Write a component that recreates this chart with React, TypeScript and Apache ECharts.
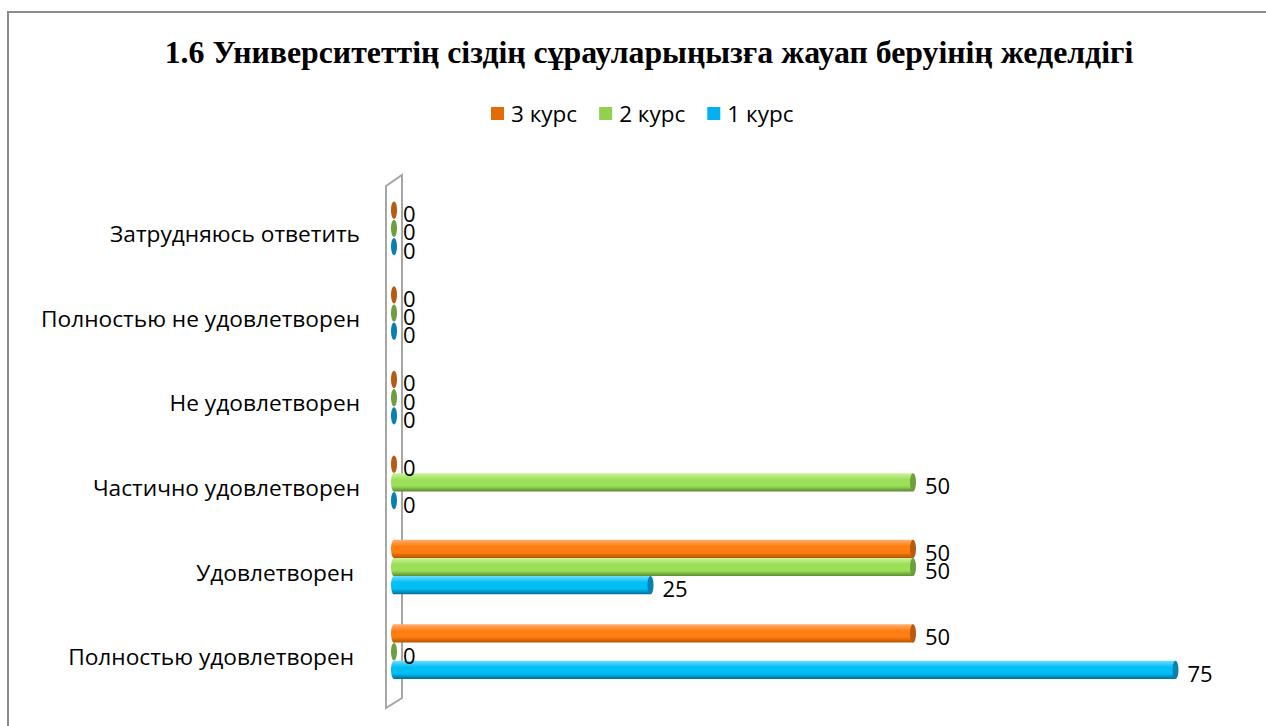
import React, { useEffect, useRef } from "react";
import * as echarts from "echarts";

const titleText = "1.6 Университеттің сіздің сұрауларыңызға жауап беруінің жеделдігі";
const categories = [
  "Полностью удовлетворен ",
  "Удовлетворен ",
  "Частично удовлетворен",
  "Не удовлетворен",
  "Полностью не удовлетворен",
  "Затрудняюсь ответить",
];
const seriesNames = ["1 курс", "2 курс", "3 курс"];
const legendOrder = ["3 курс", "2 курс", "1 курс"];
const course1 = [75, 25, 0, 0, 0, 0];
const course2 = [0, 50, 50, 0, 0, 0];
const course3 = [50, 50, 0, 0, 0, 0];

const palette: Record<string, { legend: string; top: string; mid: string; bot: string; cap: string }> = {
  "1 курс": { legend: "#00B0F0", top: "#6FDCFF", mid: "#00BFF5", bot: "#006E96", cap: "#0A80B0" },
  "2 курс": { legend: "#92D050", top: "#CDF29A", mid: "#9CE05A", bot: "#5A8A2E", cap: "#6E9E3E" },
  "3 курс": { legend: "#E36C09", top: "#FFB070", mid: "#FF7E12", bot: "#B85200", cap: "#B85A10" },
};

function makeRender(name: string, slot: number) {
  const c = palette[name];
  return (params: any, api: any) => {
    const v = api.value(0);
    const cat = api.value(1);
    const p0 = api.coord([0, cat]);
    const p1 = api.coord([v, cat]);
    const band = api.size([0, 1])[1];
    const h = band * 0.215;
    const cy = p0[1] - 5 + slot * h;
    const x0 = p0[0];
    const x1 = p1[0];
    const rx = 3;
    const grad = new echarts.graphic.LinearGradient(0, 0, 0, 1, [
      { offset: 0, color: c.top },
      { offset: 0.35, color: c.mid },
      { offset: 0.7, color: c.mid },
      { offset: 1, color: c.bot },
    ]);
    const children: any[] = [];
    if (v > 0) {
      children.push({
        type: "ellipse",
        shape: { cx: x0 + rx, cy, rx, ry: h / 2 },
        style: { fill: grad },
      });
      children.push({
        type: "rect",
        shape: { x: x0 + rx, y: cy - h / 2, width: Math.max(0, x1 - x0 - 2 * rx), height: h },
        style: { fill: grad },
      });
      children.push({
        type: "ellipse",
        shape: { cx: x1 - rx, cy, rx, ry: h / 2 },
        style: { fill: c.cap },
      });
    } else {
      children.push({
        type: "ellipse",
        shape: { cx: x0 + rx, cy, rx, ry: h / 2 - 0.5 },
        style: { fill: c.cap },
      });
    }
    const lx = v > 0 ? x1 + 9 : x0 + 2 * rx + 6;
    children.push({
      type: "text",
      style: {
        x: lx,
        y: cy + 3,
        text: String(v),
        fill: "#000",
        font: '22px "Open Sans"',
        align: "left",
        verticalAlign: "middle",
      },
    });
    return { type: "group", children };
  };
}

export default function App() {
  const ref = useRef<HTMLDivElement>(null);
  useEffect(() => {
    document.body.style.margin = "0";
    const chart = echarts.init(ref.current!, null, { renderer: "svg" });
    const dataMap: Record<string, number[]> = {
      "1 курс": course1,
      "2 курс": course2,
      "3 курс": course3,
    };
    const slots: Record<string, number> = { "1 курс": 1, "2 курс": 0, "3 курс": -1 };
    chart.setOption({
      animation: false,
      backgroundColor: "#fff",
      title: {
        text: titleText,
        left: 644,
        top: 31,
        textAlign: "center",
        textStyle: {
          fontFamily: '"Liberation Serif", "Times New Roman", serif',
          fontWeight: "bold",
          fontSize: 31.8,
          color: "#000",
        },
      },
      legend: {
        data: legendOrder.map((n) => ({ name: n, itemStyle: { color: palette[n].legend } })),
        left: 486,
        top: 97,
        icon: "rect",
        itemWidth: 13,
        itemHeight: 13,
        itemGap: 22,
        textStyle: { fontFamily: '"Open Sans", sans-serif', fontSize: 22.5, color: "#000", padding: [0, 0, 0, 2] },
      },
      grid: { left: 391, top: 191, height: 508, width: 840 },
      xAxis: {
        type: "value",
        min: 0,
        max: 80,
        show: false,
      },
      yAxis: {
        type: "category",
        data: categories,
        axisLine: { show: false },
        axisTick: { show: false },
        splitLine: { show: false },
        axisLabel: {
          margin: 31,
          fontFamily: '"Open Sans", sans-serif',
          fontSize: 22.7,
          color: "#000",
        },
      },
      graphic: [
        {
          type: "rect",
          z: 0,
          shape: { x: 8, y: 12, width: 1400, height: 900 },
          style: { fill: "none", stroke: "#8c8c8c", lineWidth: 2 },
        },
        {
          type: "polygon",
          z: 0,
          shape: { points: [[386, 186], [402, 175], [402, 698], [386, 708]] },
          style: { fill: "none", stroke: "#a6a6a6", lineWidth: 2 },
        },
      ],
      series: seriesNames.map((n) => ({
        type: "custom",
        name: n,
        z: 5,
        itemStyle: { color: palette[n].legend },
        encode: { x: 0, y: 1 },
        data: dataMap[n].map((v, i) => [v, i]),
        renderItem: makeRender(n, slots[n]),
      })),
    });
    return () => chart.dispose();
  }, []);
  return <div ref={ref} style={{ width: 1266, height: 726 }} />;
}
